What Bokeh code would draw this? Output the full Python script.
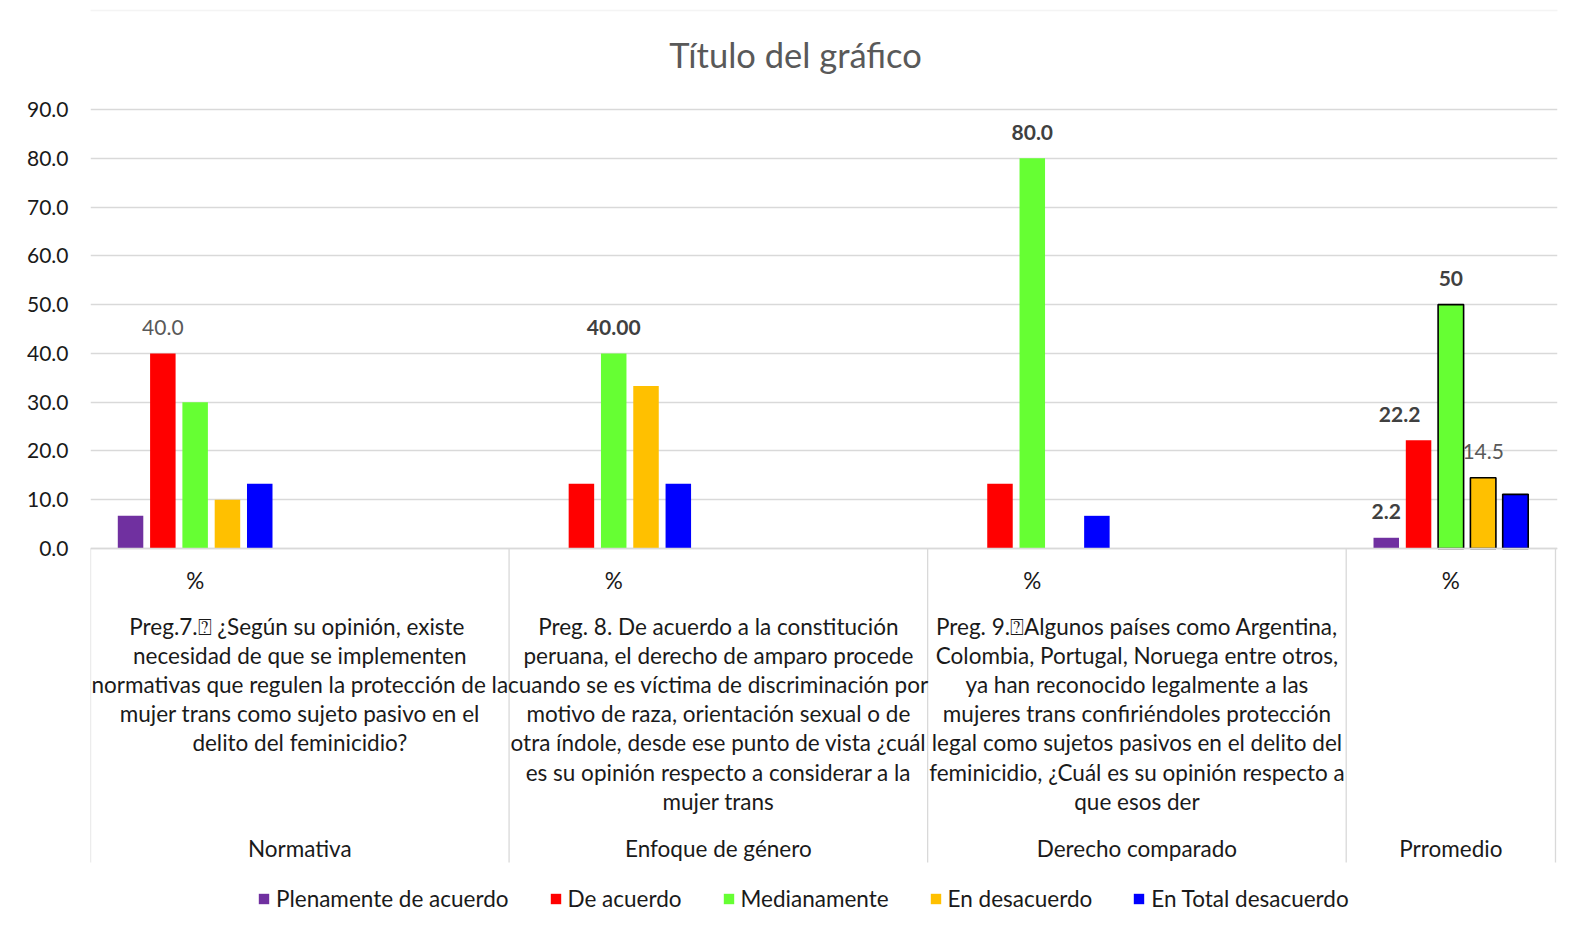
from bokeh.plotting import figure
from bokeh.models import (ColumnDataSource, Range1d, FixedTicker, PrintfTickFormatter,
                          Legend, LegendItem, BoxAnnotation)
from bokeh.core.properties import value
from bokeh.embed import file_html
from bokeh.resources import INLINE

# ---------------- data ----------------
groups = ["Normativa", "Enfoque de género", "Derecho comparado", "Prromedio"]
group_leaf_counts = [2, 2, 2, 1]
leaf_label = "%"
questions = [
    ["Preg.7.\u2370  ¿Según su opinión, existe",
     "necesidad de que se implementen",
     "normativas que regulen la protección de la",
     "mujer trans como sujeto pasivo en el",
     "delito del feminicidio?"],
    ["Preg. 8. De acuerdo a la constitución",
     "peruana, el derecho de amparo procede",
     "cuando se es víctima de discriminación por",
     "motivo de raza, orientación sexual o de",
     "otra índole, desde ese punto de vista ¿cuál",
     "es su opinión respecto a considerar a la",
     "mujer trans"],
    ["Preg. 9.\u2370Algunos países como Argentina,",
     "Colombia, Portugal, Noruega entre otros,",
     "ya han reconocido legalmente a las",
     "mujeres trans confiriéndoles protección",
     "legal como sujetos pasivos en el delito del",
     "feminicidio, ¿Cuál es su opinión respecto a",
     "que esos der"],
    [],
]
series_names = ["Plenamente de acuerdo", "De acuerdo", "Medianamente",
                "En desacuerdo", "En Total desacuerdo"]
plenamente = [6.7, 0.0, 0.0, 2.2]
de_acuerdo = [40.0, 13.3, 13.3, 22.2]
medianamente = [30.0, 40.0, 80.0, 50.0]
en_desacuerdo = [10.0, 33.3, 0.0, 14.5]
total_desacuerdo = [13.3, 13.3, 6.7, 11.1]
series_values = [plenamente, de_acuerdo, medianamente, en_desacuerdo, total_desacuerdo]
series_colors = ["#7030A0", "#FF0000", "#66FF33", "#FFC000", "#0000FF"]
outlined = [[False, False, False, False],
            [False, False, False, False],
            [False, False, False, True],
            [False, False, False, True],
            [False, False, False, True]]

# data labels: (group, series, text, bold, x pixel shift)
label_group = [0, 1, 2, 3, 3, 3, 3]
label_series = [1, 2, 2, 0, 1, 2, 3]
label_text = ["40.0", "40.00", "80.0", "2.2", "22.2", "50", "14.5"]
label_bold = [False, True, True, True, True, True, False]
label_dx = [0, 0, 0, 0, -19, 0, 0]

y_ticks = [0, 10, 20, 30, 40, 50, 60, 70, 80, 90]
title_text = "Título del gráfico"

# ---------------- layout ----------------
FONT = "Lato"
W, H = 1566, 932
n_leaves = sum(group_leaf_counts)
PX_Y = (548 - 109) / 90.0          # pixels per y unit
PX_X = (1555 - 90) / n_leaves      # pixels per leaf slot
FRAME_RIGHT = 1557


def vy(page_y):
    return (548 - page_y) / PX_Y


def ux(page_x):
    return (page_x - 90) / PX_X


p = figure(width=W, height=H, output_backend="svg", toolbar_location=None,
           x_range=Range1d(0, ux(FRAME_RIGHT)), y_range=Range1d(vy(H), vy(0)),
           x_axis_location=None, min_border_left=90, min_border_right=W - FRAME_RIGHT,
           min_border_top=0, min_border_bottom=0)
p.outline_line_color = None
p.background_fill_color = "white"
p.border_fill_color = "white"
p.xgrid.visible = False
p.ygrid.ticker = FixedTicker(ticks=y_ticks)
p.ygrid.grid_line_color = "#D9D9D9"
p.ygrid.grid_line_width = 1.3
yax = p.yaxis[0]
yax.ticker = FixedTicker(ticks=y_ticks)
yax.formatter = PrintfTickFormatter(format="%.1f")
yax.axis_line_color = None
yax.major_tick_line_color = None
yax.minor_tick_line_color = None
yax.major_tick_out = 0
yax.major_tick_in = 0
yax.major_label_standoff = 22
yax.major_label_text_font = FONT
yax.major_label_text_font_size = "21px"
yax.major_label_text_color = "#1A1A1A"

# chart-area border
p.add_layout(BoxAnnotation(left=7, right=W + 10, top=10, bottom=H + 10,
                           left_units="canvas", right_units="canvas",
                           top_units="canvas", bottom_units="canvas",
                           fill_alpha=0, line_color="#D9D9D9", line_width=1.3))

# leaf positions
group_start = []
acc = 0
for c in group_leaf_counts:
    group_start.append(acc)
    acc += c
group_end = [s + c for s, c in zip(group_start, group_leaf_counts)]
pct_centers = [s + 0.5 for s in group_start]
group_centers = [(s + e) / 2 for s, e in zip(group_start, group_end)]

step = 32.3 / PX_X
bar_w = 25.5 / PX_X

renderers = []
for si, (vals, col) in enumerate(zip(series_values, series_colors)):
    xs = [c + (si - 2) * step for c in pct_centers]
    src = ColumnDataSource(dict(
        x=xs, top=vals,
        lc=["black" if o else col for o in outlined[si]],
        la=[1.0 if o else 0.0 for o in outlined[si]],
    ))
    r = p.vbar(x="x", top="top", bottom=0, width=bar_w, source=src,
               fill_color=col, line_color="lc", line_alpha="la", line_width=1.6)
    renderers.append(r)

# data labels
lx, ly, lt = [], [], []
bx, by, bt = [], [], []
for g, s, t, b, dx in zip(label_group, label_series, label_text, label_bold, label_dx):
    x = pct_centers[g] + (s - 2) * step + dx / PX_X
    y = series_values[s][g]
    if b:
        bx.append(x); by.append(y); bt.append(t)
    else:
        lx.append(x); ly.append(y); lt.append(t)
p.text(x=lx, y=ly, text=lt, text_font=value(FONT), text_font_size="21px",
       text_color="#595959", text_align="center", text_baseline="middle", y_offset=-26)
p.text(x=bx, y=by, text=bt, text_font=value(FONT), text_font_size="21px",
       text_font_style="bold", text_color="#404040", text_align="center",
       text_baseline="middle", y_offset=-26)

# category axis line and separators
p.segment(x0=[0], y0=[0], x1=[ux(FRAME_RIGHT)], y1=[0], line_color="#D9D9D9", line_width=1.3)
seps = [0] + group_end
p.segment(x0=seps, y0=[0] * len(seps), x1=seps, y1=[vy(862)] * len(seps),
          line_color="#D9D9D9", line_width=1.3)

# category texts
cat_font = "22.5px"
p.text(x=pct_centers, y=[vy(580)] * len(pct_centers), text=[leaf_label] * len(pct_centers),
       text_font=value(FONT), text_font_size=cat_font, text_color="#1A1A1A",
       text_align="center", text_baseline="middle")
qx, qy, qt = [], [], []
line_y = [626, 655, 684, 713, 742, 772, 801]
for gi, lines in enumerate(questions):
    for li, t in enumerate(lines):
        qx.append(group_centers[gi]); qy.append(vy(line_y[li])); qt.append(t)
p.text(x=qx, y=qy, text=qt, text_font=value(FONT), text_font_size=cat_font,
       text_color="#1A1A1A", text_align="center", text_baseline="middle")
p.text(x=group_centers, y=[vy(848)] * len(groups), text=groups,
       text_font=value(FONT), text_font_size=cat_font, text_color="#1A1A1A",
       text_align="center", text_baseline="middle")

# title
p.text(x=[ux(795)], y=[vy(54)], text=[title_text], text_font=value(FONT),
       text_font_size="34.5px", text_color="#595959", text_align="center",
       text_baseline="middle")

legend = Legend(items=[LegendItem(label=n, renderers=[r]) for n, r in zip(series_names, renderers)],
                orientation="horizontal", location=(167, 20), glyph_width=13, glyph_height=13,
                label_standoff=6, spacing=40, padding=0, margin=0,
                border_line_color=None, background_fill_alpha=0,
                label_text_font=FONT, label_text_font_size="22.5px", label_text_color="#1A1A1A")
p.add_layout(legend)

open("out.html", "w").write(file_html(p, INLINE))
